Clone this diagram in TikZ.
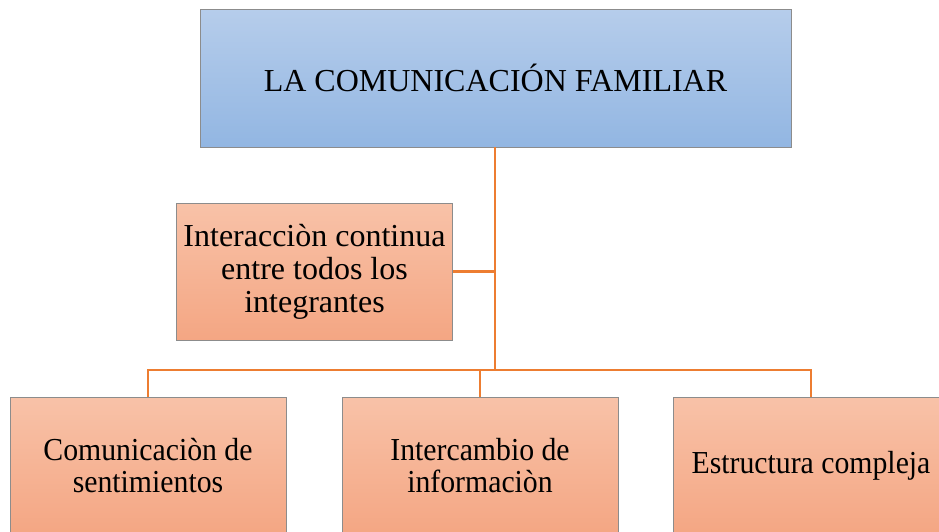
\documentclass[tikz,border=0pt]{standalone}
\usepackage{fontspec}
\setmainfont{Liberation Serif}
\newfontfamily\condfont[FakeStretch=0.93]{Liberation Serif}
\definecolor{lineor}{HTML}{ED7D31}
\definecolor{blueT}{HTML}{B6CDEB}
\definecolor{blueB}{HTML}{92B6E2}
\definecolor{orT}{HTML}{F8C2A8}
\definecolor{orB}{HTML}{F4A683}
\definecolor{bord}{HTML}{8C8C8C}
\begin{document}
\begin{tikzpicture}[x=1pt,y=-1pt,
  bluebox/.style={draw=bord, line width=0.8pt, top color=blueT, bottom color=blueB, minimum width=591pt, minimum height=138pt, inner sep=0pt, align=center, font=\fontsize{32}{33}\selectfont},
  orbox/.style={draw=bord, line width=0.8pt, top color=orT, bottom color=orB, minimum width=276pt, minimum height=137pt, inner sep=0pt, align=center, font=\fontsize{32}{33}\selectfont},
  orbot/.style={orbox, font=\condfont\fontsize{32}{32}\selectfont},
  conn/.style={draw=lineor, line width=2.2pt}]
\useasboundingbox (0,0) rectangle (939,531);
\clip (0,0) rectangle (939,531);
\node[bluebox] (top) at (495.5,78) {LA COMUNICACIÓN FAMILIAR};
\node[orbox] (mid) at (314.5,271.5) {Interacciòn continua\\entre todos los\\integrantes};
\node[orbot] (b1) at (148,466) {Comunicaciòn de\\sentimientos};
\node[orbot] (b2) at (480,466) {Intercambio de\\informaciòn};
\node[orbot] (b3) at (811,466) {Estructura compleja};
\coordinate (bus) at (495,370);
\draw[conn] (top.south -| bus) -- (bus);
\draw[conn] (mid.east) -- (mid.east -| bus);
\draw[conn] (b1.north) |- (bus) -| (b3.north);
\draw[conn] (b2.north) -- (b2.north |- bus);
\end{tikzpicture}
\end{document}
